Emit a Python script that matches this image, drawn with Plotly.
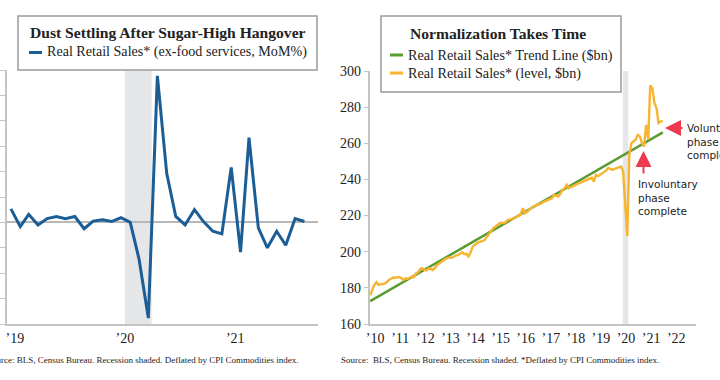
import plotly.graph_objects as go
import pandas as pd

W, H = 720, 380
def px(x): return x / W
def py(y): return 1 - y / H

# ---------------- data ----------------
# Left: Real retail sales ex-food services, MoM %
mom_dates = pd.date_range("2019-01-01", periods=33, freq="MS")
mom_values = [1.6, -0.5, 0.95, -0.3, 0.45, 0.7, 0.45, 0.7, -0.75, 0.15, 0.3, 0.1,
              0.55, 0.0, -4.3, -11.3, 17.3, 5.8, 0.7, -0.3, 1.5, 0.1, -1.05, -1.35,
              6.5, -3.5, 10.0, -0.65, -3.0, -1.05, -2.7, 0.45, 0.1]

# Right: Real retail sales level ($bn), monthly Jan 2010 - Sep 2021
level_dates = pd.date_range("2010-01-01", periods=141, freq="MS")
level_values = [
    176.0, 178.8, 181.5, 183.1, 181.6, 181.9, 182.0, 182.4, 183.2, 184.4, 185.0, 185.7,
    185.6, 185.9, 186.0, 185.3, 184.4, 185.3, 185.0, 185.6, 186.2, 185.8, 188.1, 188.6,
    190.5, 190.8, 189.9, 189.6, 190.8, 190.4, 189.9, 191.0, 192.7, 193.5, 194.4, 195.5,
    196.0, 196.4, 196.8, 196.6, 197.3, 197.9, 198.2, 198.9, 199.7, 198.6, 198.9, 197.3,
    199.5, 202.8, 203.9, 204.7, 205.3, 205.6, 206.0, 206.8, 208.4, 209.6, 211.8, 213.2,
    213.9, 214.8, 215.8, 216.1, 215.8, 216.6, 217.6, 217.9, 218.2, 218.6, 219.3, 219.8,
    220.4, 224.1, 221.3, 222.0, 223.2, 224.0, 225.0, 225.4, 225.9, 226.3, 226.9, 227.6,
    228.2, 228.7, 229.1, 229.6, 231.5, 230.8, 230.5, 232.0, 234.2, 235.0, 237.0, 235.2,
    235.8, 236.6, 237.0, 237.5, 237.9, 238.4, 238.9, 239.3, 239.8, 240.3, 241.0, 238.8,
    242.5, 241.8, 242.5, 243.2, 244.4, 245.0, 246.3, 245.8, 245.3, 245.9, 246.4, 246.8,
    247.1, 244.4, 229.6, 208.7, 253.6, 260.1, 261.0, 262.0, 264.7, 263.8, 260.1, 258.2,
    270.2, 262.0, 292.0, 290.5, 282.3, 279.5, 271.2, 272.1, 272.1,
]

# Trend line endpoints
trend_dates = ["2010-01-01", "2021-09-01"]
trend_values = [172.7, 266.0]

left_ticks = ["2019-01-01", "2020-01-01", "2021-01-01"]
left_ticktext = ["\u201919", "\u201920", "\u201921"]
right_ticks = [f"{y}-01-01" for y in range(2010, 2023)]
right_ticktext = [f"\u2019{str(y)[2:]}" for y in range(2010, 2023)]
right_yticks = [160, 180, 200, 220, 240, 260, 280, 300]

# ---------------- styles ----------------
SERIF = "Liberation Serif, Times New Roman, serif"
SANS = "DejaVu Sans, sans-serif"
BLUE = "#1b5e96"
ORANGE = "#f6b431"
GREEN = "#5a9b32"
RED = "#ee3a4f"
SHADE = "#e5e6e8"
AXIS = "#c4c4c4"
TXT = "#222222"

fig = go.Figure()
fig.add_trace(go.Scatter(x=mom_dates, y=mom_values, mode="lines",
                         line=dict(color=BLUE, width=3), xaxis="x", yaxis="y",
                         showlegend=False))
fig.add_trace(go.Scatter(x=trend_dates, y=trend_values, mode="lines",
                         line=dict(color=GREEN, width=2.5), xaxis="x2", yaxis="y2",
                         showlegend=False))
fig.add_trace(go.Scatter(x=level_dates, y=level_values, mode="lines",
                         line=dict(color=ORANGE, width=2.4), xaxis="x2", yaxis="y2",
                         showlegend=False))

# recession shading
fig.add_shape(type="rect", xref="x", yref="y domain", x0="2020-01-14", x1="2020-04-12",
              y0=0, y1=1, fillcolor=SHADE, line_width=0, layer="below")
fig.add_shape(type="rect", xref="x2", yref="y2 domain", x0="2020-01-27", x1="2020-04-16",
              y0=0, y1=1, fillcolor=SHADE, line_width=0, layer="below")

# legend boxes
fig.add_shape(type="rect", xref="paper", yref="paper", x0=px(18), x1=px(317),
              y0=py(70), y1=py(16), line=dict(color="#9a9a9a", width=1.5), fillcolor="white")
fig.add_shape(type="rect", xref="paper", yref="paper", x0=px(381), x1=px(621),
              y0=py(92), y1=py(16), line=dict(color="#9a9a9a", width=1.5), fillcolor="white")
# legend samples
fig.add_shape(type="line", xref="paper", yref="paper", x0=px(29), x1=px(42),
              y0=py(52.5), y1=py(52.5), line=dict(color=BLUE, width=3))
fig.add_shape(type="line", xref="paper", yref="paper", x0=px(390), x1=px(403),
              y0=py(55), y1=py(55), line=dict(color=GREEN, width=3))
fig.add_shape(type="line", xref="paper", yref="paper", x0=px(390), x1=px(403),
              y0=py(73), y1=py(73), line=dict(color=ORANGE, width=3))

ann = []
def text(x, y, s, size, xanchor="left", bold=False, family=SERIF, color=TXT):
    ann.append(dict(xref="paper", yref="paper", x=px(x), y=py(y), text=f"<b>{s}</b>" if bold else s,
                    showarrow=False, xanchor=xanchor, yanchor="middle", align="left",
                    font=dict(family=family, size=size, color=color)))

text(167.5, 32, "Dust Settling After Sugar-High Hangover", 15.6, "center", bold=True)
text(45, 52, "Real Retail Sales* (ex-food services, MoM%)", 14.1)
text(498, 33, "Normalization Takes Time", 15.6, "center", bold=True)
text(406, 55, "Real Retail Sales* Trend Line ($bn)", 14.2)
text(406, 73, "Real Retail Sales* (level, $bn)", 14.2)
text(300, 360, "Source: BLS, Census Bureau. Recession shaded. Deflated by CPI Commodities index.", 9.0, "right")
text(339, 360, "Source:  BLS, Census Bureau. Recession shaded. *Deflated by CPI Commodities index.", 9.0)

ann.append(dict(xref="paper", yref="paper", x=px(636), y=py(176), text="Involuntary<br>phase<br>complete",
                showarrow=False, xanchor="left", yanchor="top", align="left",
                font=dict(family=SANS, size=10.5, color=TXT)))
ann.append(dict(xref="paper", yref="paper", x=px(685), y=py(120), text="Voluntary<br>phase not<br>complete",
                showarrow=False, xanchor="left", yanchor="top", align="left",
                font=dict(family=SANS, size=10.5, color=TXT)))
# arrows
ann.append(dict(xref="paper", yref="paper", x=px(643.5), y=py(151), text="", showarrow=True,
                ax=0, ay=24, arrowhead=2, arrowsize=1.6, arrowwidth=2, arrowcolor=RED))
ann.append(dict(xref="paper", yref="paper", x=px(665), y=py(128), text="", showarrow=True,
                ax=19, ay=0, arrowhead=2, arrowsize=1.6, arrowwidth=2, arrowcolor=RED))

fig.update_layout(
    width=W, height=H, margin=dict(l=0, r=0, t=0, b=0, autoexpand=False),
    paper_bgcolor="white", plot_bgcolor="white",
    font=dict(family=SERIF, size=14, color=TXT),
    annotations=ann,
    xaxis=dict(domain=[px(7), px(318)], range=["2018-12-19", "2021-10-16"],
               tickvals=left_ticks, ticktext=left_ticktext, showgrid=False,
               showline=True, linecolor=AXIS, linewidth=1.5, ticks="",
               ticklabelshift=4, tickfont=dict(size=14), zeroline=False),
    yaxis=dict(domain=[py(324), py(70)], range=[-12, 18], dtick=3, tick0=0,
               showticklabels=False, showgrid=False, showline=True, linecolor=AXIS,
               linewidth=1.5, ticks="outside", ticklen=6, tickcolor=AXIS, tickwidth=1,
               zeroline=True, zerolinecolor="#b8b8b8", zerolinewidth=1.5),
    xaxis2=dict(domain=[px(369.5), px(696)], range=["2009-12-22", "2022-12-28"],
                anchor="y2", tickvals=right_ticks, ticktext=right_ticktext,
                showgrid=False, showline=True, linecolor=AXIS, linewidth=1.5,
                ticks="", ticklabelshift=5, tickfont=dict(size=14), zeroline=False),
    yaxis2=dict(domain=[py(324), py(71)], range=[160, 300], anchor="x2",
                tickvals=right_yticks, showgrid=False, showline=True, linecolor=AXIS,
                linewidth=1.5, ticks="outside", ticklen=4, tickcolor=AXIS,
                tickfont=dict(size=14), zeroline=False),
)

fig.write_html("out.html", config={"displayModeBar": False},
               post_script="document.body.style.margin='0';document.body.style.padding='0';")
